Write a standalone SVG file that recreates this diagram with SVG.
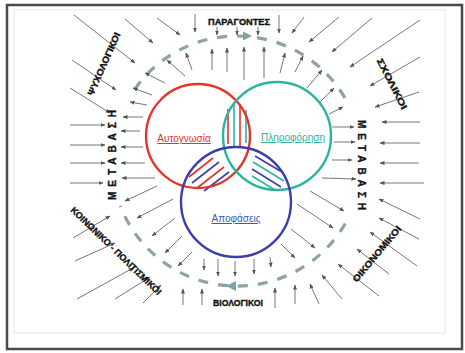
<svg xmlns="http://www.w3.org/2000/svg" width="465" height="353" viewBox="0 0 465 353">
<defs>
<marker id="ah" viewBox="0 0 10 10" refX="9" refY="5" markerWidth="5" markerHeight="5" orient="auto" markerUnits="userSpaceOnUse">
<path d="M0,1 L10,5 L0,9 z" fill="#555"/>
</marker>
<style>
.a{stroke:#666;stroke-width:0.9;fill:none;marker-end:url(#ah)}
.ring{fill:none;stroke:#8ea3a5;stroke-width:3.2;stroke-dasharray:10 10}
.lbl{font-family:"Liberation Sans",Arial,sans-serif;font-weight:bold;font-size:9px;fill:#111;stroke:#111;stroke-width:0.35}
.big{font-size:10px}
.cl{font-family:"Liberation Sans",Arial,sans-serif;font-size:10px;text-decoration:underline;text-anchor:middle}
.hr{stroke:#e5332a;stroke-width:1.6}
.ht{stroke:#2bb5a0;stroke-width:1.6}
.hb{stroke:#3b3fa6;stroke-width:1.6}
</style>
</defs>
<rect x="0" y="0" width="465" height="353" fill="#fff"/>
<rect x="14" y="10" width="431" height="323" fill="none" stroke="#e6e6e6" stroke-width="1"/>
<rect x="7" y="5" width="455" height="344" fill="none" stroke="#4a4a4a" stroke-width="2.5"/>

<g id="ring">
<path class="ring" d="M134.6,89.3 A125,125 0 0 1 348.4,104.3"/>
<path class="ring" d="M345.3,223.5 A125,125 0 0 1 120.3,205.8"/>
<path d="M226,286 L236,281 L236,291 z" fill="#7fa3a3"/>
<path d="M252,36 L243,31.5 L243,40.5 z" fill="#7fa3a3"/>
</g>

<g id="connectors">
<line class="a" x1="74" y1="15" x2="135" y2="63"/>
<line class="a" x1="125" y1="19" x2="153" y2="43"/>
<line class="a" x1="157" y1="18" x2="180" y2="35"/>
<line class="a" x1="195" y1="14" x2="195" y2="32"/>
<line class="a" x1="72" y1="60" x2="116" y2="90"/>
<line class="a" x1="70" y1="88" x2="110" y2="113"/>
<line class="a" x1="70" y1="125" x2="105" y2="125"/>
<line class="a" x1="70" y1="145" x2="105" y2="145"/>
<line class="a" x1="70" y1="163" x2="105" y2="163"/>
<line class="a" x1="212" y1="70" x2="212" y2="49"/>
<line class="a" x1="227" y1="72" x2="227" y2="48"/>
<line class="a" x1="192" y1="70" x2="186" y2="53"/>
<line class="a" x1="185" y1="76" x2="167" y2="60"/>
<line class="a" x1="165" y1="83" x2="145" y2="73"/>
<line class="a" x1="152" y1="95" x2="133" y2="88"/>
<line class="a" x1="147" y1="105" x2="130" y2="102"/>
<line class="a" x1="143" y1="117" x2="123" y2="117"/>
<line class="a" x1="140" y1="131" x2="121" y2="131"/>
<line class="a" x1="143" y1="147" x2="121" y2="147"/>
<line class="a" x1="145" y1="163" x2="121" y2="163"/>
<line class="a" x1="217" y1="27" x2="217" y2="35"/>
<line class="a" x1="237" y1="27" x2="237" y2="35"/>
<line class="a" x1="258" y1="27" x2="258" y2="35"/>
<line class="a" x1="279" y1="15" x2="279" y2="33"/>
<line class="a" x1="244" y1="80" x2="244" y2="47"/>
<line class="a" x1="264" y1="78" x2="264" y2="47"/>
<line class="a" x1="304" y1="17" x2="292" y2="33"/>
<line class="a" x1="339" y1="17" x2="309" y2="42"/>
<line class="a" x1="372" y1="18" x2="332" y2="52"/>
<line class="a" x1="420" y1="20" x2="350" y2="67"/>
<line class="a" x1="420" y1="57" x2="370" y2="86"/>
<line class="a" x1="419" y1="92" x2="375" y2="107"/>
<line class="a" x1="420" y1="122" x2="382" y2="122"/>
<line class="a" x1="420" y1="143" x2="380" y2="143"/>
<line class="a" x1="419" y1="163" x2="380" y2="163"/>
<line class="a" x1="280" y1="73" x2="285" y2="53"/>
<line class="a" x1="295" y1="72" x2="303" y2="56"/>
<line class="a" x1="307" y1="88" x2="322" y2="70"/>
<line class="a" x1="320" y1="102" x2="334" y2="88"/>
<line class="a" x1="329" y1="114" x2="343" y2="107"/>
<line class="a" x1="332" y1="127" x2="354" y2="127"/>
<line class="a" x1="334" y1="142" x2="355" y2="142"/>
<line class="a" x1="332" y1="160" x2="352" y2="160"/>
<line class="a" x1="322" y1="178" x2="356" y2="179"/>
<line class="a" x1="310" y1="191" x2="344" y2="211"/>
<line class="a" x1="297" y1="204" x2="333" y2="228"/>
<line class="a" x1="291" y1="229" x2="315" y2="248"/>
<line class="a" x1="281" y1="244" x2="295" y2="258"/>
<line class="a" x1="270" y1="257" x2="271" y2="267"/>
<line class="a" x1="254" y1="259" x2="254" y2="274"/>
<line class="a" x1="235" y1="261" x2="235" y2="276"/>
<line class="a" x1="424" y1="183" x2="380" y2="183"/>
<line class="a" x1="420" y1="219" x2="379" y2="199"/>
<line class="a" x1="419" y1="239" x2="379" y2="218"/>
<line class="a" x1="417" y1="266" x2="370" y2="232"/>
<line class="a" x1="389" y1="274" x2="357" y2="249"/>
<line class="a" x1="379" y1="296" x2="338" y2="264"/>
<line class="a" x1="342" y1="299" x2="322" y2="275"/>
<line class="a" x1="319" y1="304" x2="310" y2="284"/>
<line class="a" x1="295" y1="304" x2="295" y2="285"/>
<line class="a" x1="275" y1="308" x2="275" y2="288"/>
<line class="a" x1="155" y1="178" x2="122" y2="178"/>
<line class="a" x1="157" y1="186" x2="125" y2="201"/>
<line class="a" x1="173" y1="199" x2="137" y2="218"/>
<line class="a" x1="175" y1="218" x2="152" y2="236"/>
<line class="a" x1="182" y1="236" x2="165" y2="253"/>
<line class="a" x1="192" y1="252" x2="178" y2="266"/>
<line class="a" x1="204" y1="259" x2="204" y2="270"/>
<line class="a" x1="218" y1="259" x2="218" y2="276"/>
<line class="a" x1="70" y1="183" x2="103" y2="183"/>
<line class="a" x1="73" y1="238" x2="110" y2="216"/>
<line class="a" x1="75" y1="261" x2="115" y2="243"/>
<line class="a" x1="77" y1="299" x2="133" y2="268"/>
<line class="a" x1="115" y1="299" x2="150" y2="277"/>
<line class="a" x1="143" y1="303" x2="161" y2="285"/>
<line class="a" x1="183" y1="305" x2="183" y2="289"/>
<line class="a" x1="202" y1="305" x2="202" y2="289"/>
</g>

<g id="hatching">
<line class="hr" x1="228" y1="109" x2="228" y2="144"/>
<line class="ht" x1="234" y1="104" x2="234" y2="146"/>
<line class="hr" x1="240" y1="104" x2="240" y2="146"/>
<line class="ht" x1="246" y1="110" x2="246" y2="143"/>
<line class="hr" x1="189" y1="177" x2="213" y2="158"/>
<line class="hb" x1="192" y1="183" x2="219" y2="162"/>
<line class="hr" x1="197" y1="188" x2="224" y2="167"/>
<line class="hb" x1="204" y1="191" x2="229" y2="172"/>
<line class="hb" x1="255" y1="156" x2="282" y2="172"/>
<line class="ht" x1="253" y1="162" x2="284" y2="181"/>
<line class="hb" x1="252" y1="169" x2="281" y2="187"/>
<line class="ht" x1="252" y1="176" x2="275" y2="190"/>
</g>

<g id="n-autognosia">
<circle cx="198" cy="136" r="52" fill="none" stroke="#e5332a" stroke-width="2.4"/>
<text class="cl" x="184" y="142" fill="#e5332a">Αυτογνωσία</text>
</g>
<g id="n-pliroforisi">
<circle cx="277" cy="136" r="54" fill="none" stroke="#2bb5a0" stroke-width="2.4"/>
<text class="cl" x="293" y="141" fill="#2bb5a0">Πληροφόρηση</text>
</g>
<g id="n-apofaseis">
<circle cx="236" cy="202" r="55" fill="none" stroke="#3b3fa6" stroke-width="2.4"/>
<text class="cl" x="236" y="222" fill="#2f5fb3">Αποφάσεις</text>
</g>

<g id="labels">
<text class="lbl" x="239" y="25" text-anchor="middle" textLength="62" lengthAdjust="spacingAndGlyphs">ΠΑΡΑΓΟΝΤΕΣ</text>
<text class="lbl" x="238" y="306" text-anchor="middle" textLength="50" lengthAdjust="spacingAndGlyphs">ΒΙΟΛΟΓΙΚΟΙ</text>
<text class="lbl" text-anchor="middle" transform="translate(104,64) rotate(-66)" y="3" textLength="68" lengthAdjust="spacingAndGlyphs">ΨΥΧΟΛΟΓΙΚΟΙ</text>
<text class="lbl" text-anchor="middle" transform="translate(392,84) rotate(63)" y="3" textLength="56" lengthAdjust="spacingAndGlyphs">ΣΧΟΛΙΚΟΙ</text>
<text class="lbl" text-anchor="middle" transform="translate(116,251) rotate(44)" y="3" textLength="122" lengthAdjust="spacingAndGlyphs">ΚΟΙΝΩΝΙΚΟ - ΠΟΛΙΤΙΣΜΙΚΟΙ</text>
<text class="lbl" text-anchor="middle" transform="translate(377,254) rotate(-50)" y="3" textLength="70" lengthAdjust="spacingAndGlyphs">ΟΙΚΟΝΟΜΙΚΟΙ</text>
<text class="lbl big" text-anchor="middle" transform="translate(112,155) rotate(-90)" y="3.5" textLength="90" lengthAdjust="spacing">ΜΕΤΑΒΑΣΗ</text>
<text class="lbl big" text-anchor="middle" transform="translate(361,165) rotate(90)" y="3.5" textLength="90" lengthAdjust="spacing">ΜΕΤΑΒΑΣΗ</text>
</g>
</svg>
